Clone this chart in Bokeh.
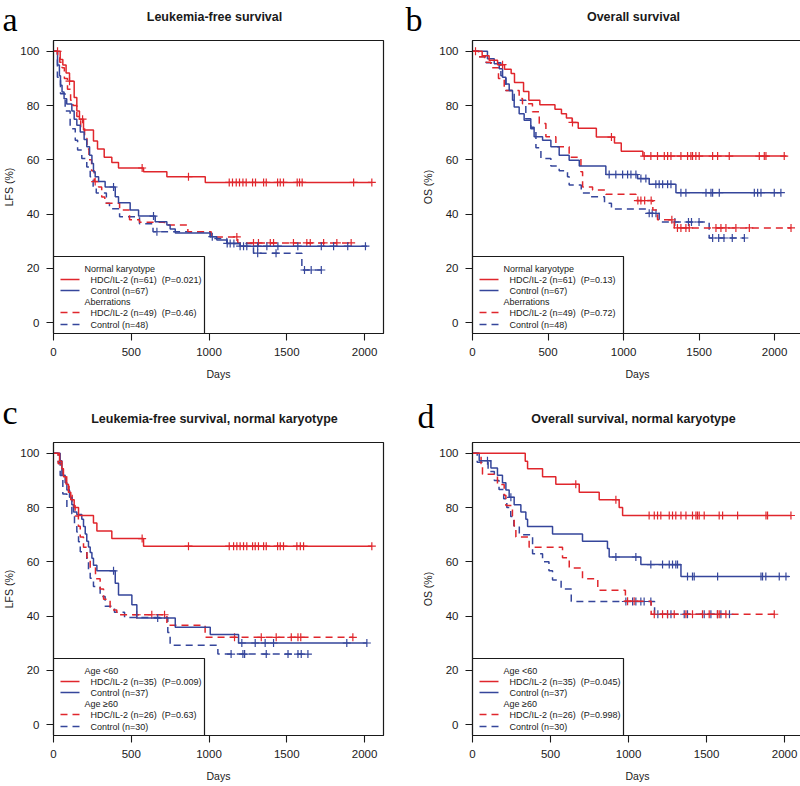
import numpy as np
from bokeh.plotting import figure
from bokeh.models import Range1d, FixedTicker
from bokeh.layouts import column, row
from bokeh.core.properties import value
from bokeh.embed import file_html
from bokeh.resources import INLINE

# ------------------------------------------------------------------ data
x_ticks = [0, 500, 1000, 1500, 2000]
y_ticks = [0, 20, 40, 60, 80, 100]

# Panel a : Leukemia-free survival
a_nk_hdc_t = [0, 43, 60, 81, 103, 133, 150, 167, 193, 257, 283, 326, 375, 418, 579, 729, 976, 2047]
a_nk_hdc_s = [100, 97, 95, 92, 89, 83, 78, 75, 71, 67, 64, 61, 59, 57, 55.6, 53.8, 51.7, 51.7]
a_nk_hdc_c = [26, 103, 187, 570, 868, 1130, 1151, 1175, 1196, 1218, 1239, 1280, 1299, 1351, 1368,
              1441, 1458, 1479, 1567, 1582, 1599, 1930, 2047]
a_nk_ctl_t = [0, 26, 38, 45, 55, 68, 85, 118, 133, 150, 172, 197, 214, 232, 247, 257, 268, 290, 332,
              397, 418, 493, 547, 654, 729, 750, 783, 1008, 1050, 1115, 1200, 2015]
a_nk_ctl_s = [100, 95, 91, 87.5, 85, 82.5, 80.6, 78, 75, 72.8, 70.3, 67.5, 64.8, 61.7, 58.7, 55.6, 53.8,
              52, 50, 46.4, 44.2, 41.5, 39.3, 37.2, 36, 34.5, 33, 31.7, 30.5, 29.2, 28.2, 28.2]
a_nk_ctl_c = [386, 643, 1021, 1117, 1136, 1160, 1200, 1222, 1243, 1313, 1372, 1443, 1571, 1722, 1801,
              1892, 2006]
a_ab_hdc_t = [0, 25, 40, 55, 70, 90, 110, 125, 150, 175, 200, 215, 228, 245, 262, 290, 310, 330, 425,
              489, 553, 714, 864, 1014, 1185, 1914]
a_ab_hdc_s = [100, 98, 96, 94, 90, 86, 82, 80, 76, 72, 68, 64, 60, 56, 52, 50, 46.3, 44, 41.5, 37.9,
              37, 36, 33.5, 31.6, 29.4, 29.4]
a_ab_hdc_c = [268, 1179, 1286, 1318, 1394, 1415, 1543, 1629, 1651, 1737, 1822, 1914]
a_ab_ctl_t = [0, 25, 45, 75, 107, 140, 155, 182, 214, 236, 255, 275, 340, 360, 425, 553, 640, 1008,
              1115, 1286, 1597, 1722]
a_ab_ctl_s = [100, 90.5, 84.4, 78, 71.5, 67.2, 63.6, 60.5, 57.4, 53.8, 50, 47.8, 44, 42, 39, 36.5,
              33.5, 31, 29.2, 25.6, 19.4, 19.4]
a_ab_ctl_c = [665, 1313, 1431, 1614, 1657, 1722]

# Panel b : Overall survival
b_nk_hdc_t = [0, 64, 110, 166, 212, 256, 278, 338, 373, 446, 546, 589, 622, 660, 700, 820, 940, 985,
              1128, 2079]
b_nk_hdc_s = [100, 98.4, 96.7, 95.1, 93.4, 91.8, 88.5, 85.2, 82, 80.3, 78.7, 77, 75.4, 73.8, 71.7,
              68.4, 66.2, 63.2, 61.4, 61.4]
b_nk_hdc_c = [20, 199, 662, 920, 1137, 1181, 1225, 1270, 1292, 1314, 1380, 1424, 1446, 1457, 1479,
              1501, 1590, 1623, 1700, 1899, 1932, 1943, 2064]
b_nk_ctl_t = [0, 99, 144, 177, 199, 221, 243, 265, 276, 309, 342, 386, 408, 464, 519, 574, 640, 707,
              883, 1093, 1170, 1347, 2042]
b_nk_ctl_s = [100, 97.3, 95.4, 93.6, 90.5, 88, 85.6, 82, 79.5, 77, 74.6, 72, 68.5, 67.2, 64.8, 61.7,
              59.9, 57.7, 54.6, 53.1, 51, 47.9, 47.9]
b_nk_ctl_c = [905, 949, 994, 1027, 1049, 1082, 1115, 1148, 1214, 1236, 1259, 1292, 1314, 1380, 1413,
              1546, 1579, 1590, 1634, 1866, 1888, 1910, 1998, 2042]
b_ab_hdc_t = [0, 40, 80, 121, 172, 210, 309, 331, 397, 442, 486, 552, 640, 718, 729, 795, 883, 1082,
              1194, 1225, 1336, 2109]
b_ab_hdc_s = [100, 98, 96, 94, 90, 85.6, 82.6, 80.7, 77.7, 73.4, 68.5, 64.8, 61, 55.6, 50, 48.9, 47.3,
              45, 41.5, 37.9, 34.9, 34.9]
b_ab_hdc_c = [1095, 1115, 1140, 1183, 1320, 1357, 1380, 1413, 1435, 1612, 1645, 1678, 1744, 1833, 2109]
b_ab_ctl_t = [0, 40, 90, 188, 221, 276, 353, 386, 420, 453, 519, 574, 629, 640, 720, 780, 874, 920,
              1148, 1236, 1567, 1800]
b_ab_ctl_s = [100, 98, 95.8, 91, 85.6, 82, 75.2, 71.5, 64.5, 60.5, 57.7, 56, 53.8, 50.7, 47.8, 46.4,
              44, 41.9, 40.3, 37.1, 31.2, 31.2]
b_ab_ctl_c = [1170, 1190, 1215, 1340, 1430, 1450, 1500, 1590, 1630, 1665, 1720, 1800]

# Panel c : Leukemia-free survival, normal karyotype
c_lo_hdc_t = [0, 39, 54, 64, 81, 96, 111, 133, 161, 257, 279, 375, 579, 2047]
c_lo_hdc_s = [100, 97.1, 94.3, 91.4, 88.6, 85.7, 82.9, 80, 77.1, 74.3, 71.4, 68.6, 65.8, 65.8]
c_lo_hdc_c = [570, 868, 1130, 1158, 1179, 1200, 1222, 1243, 1280, 1297, 1318, 1351, 1368, 1441,
              1458, 1479, 1565, 1587, 1608, 2047]
c_lo_ctl_t = [0, 43, 54, 75, 86, 103, 118, 129, 150, 182, 193, 204, 214, 225, 236, 247, 257, 279,
              397, 418, 504, 536, 783, 1008, 1190, 2015]
c_lo_ctl_s = [100, 97.3, 91.9, 89.2, 86.5, 83.8, 81.1, 78.4, 77.5, 75.7, 73, 70.3, 67.6, 65.5, 63.5,
              61.3, 58.8, 56.7, 52.1, 47.8, 44.2, 39.3, 35.9, 33.2, 30.1, 30.1]
c_lo_ctl_c = [386, 670, 1211, 1297, 1361, 1415, 1886, 2015]
c_hi_hdc_t = [0, 30, 60, 85, 100, 120, 139, 160, 172, 193, 215, 236, 270, 300, 322, 364, 407, 729,
              975, 1925]
c_hi_hdc_s = [100, 96.2, 92.3, 88.5, 84.6, 80.8, 76.9, 73.1, 69.2, 65.4, 61.5, 57.7, 53.8, 50, 46.2,
              42.3, 40.5, 36.6, 32.2, 32.2]
c_hi_hdc_c = [535, 632, 714, 1164, 1336, 1432, 1529, 1572, 1590, 1925]
c_hi_ctl_t = [0, 30, 43, 60, 86, 118, 135, 150, 161, 172, 214, 225, 236, 257, 300, 332, 392, 457,
              735, 750, 1057, 1640]
c_hi_ctl_s = [100, 96.7, 91.8, 85, 80.2, 77.7, 74, 71, 67.4, 63.7, 60, 57, 54, 50.9, 47.2, 43.6,
              41.4, 39.5, 34, 29.3, 26, 26]
c_hi_ctl_c = [1142, 1218, 1229, 1368, 1508, 1572, 1593, 1636]

# Panel d : Overall survival, normal karyotype
d_lo_hdc_t = [0, 338, 353, 449, 534, 684, 812, 940, 962, 2041]
d_lo_hdc_s = [100, 97.1, 94.3, 91.4, 88.6, 85.7, 82.9, 80, 77.1, 77.1]
d_lo_hdc_c = [662, 919, 1132, 1165, 1186, 1207, 1261, 1282, 1303, 1336, 1368, 1410, 1432, 1442,
              1453, 1485, 1581, 1603, 1699, 1881, 1891, 2041]
d_lo_ctl_t = [0, 43, 118, 160, 192, 214, 235, 267, 310, 342, 353, 513, 705, 865, 876, 1079, 1336, 2030]
d_lo_ctl_s = [100, 97.3, 94.6, 91.9, 89.2, 86.5, 83.8, 81.1, 78.4, 75.7, 73, 70.3, 67.6, 64.9, 61.8,
              59, 54.6, 54.6]
d_lo_ctl_c = [96, 246, 919, 1047, 1143, 1218, 1261, 1282, 1303, 1314, 1378, 1410, 1421, 1571, 1849,
              1859, 1880, 1966, 2009]
d_hi_hdc_t = [0, 55, 64, 160, 203, 214, 256, 267, 278, 363, 577, 620, 705, 803, 980, 1145, 1934]
d_hi_hdc_s = [100, 96.2, 92.3, 88.5, 84.6, 80.8, 76.9, 73.1, 69.2, 65.4, 61.5, 57.7, 53.8, 49.5,
              45.5, 40.7, 40.7]
d_hi_hdc_c = [994, 1036, 1165, 1218, 1250, 1293, 1368, 1410, 1474, 1517, 1570, 1581, 1624, 1934]
d_hi_ctl_t = [0, 30, 100, 140, 170, 200, 220, 245, 265, 300, 385, 449, 490, 513, 568, 633, 1167, 1647]
d_hi_ctl_s = [100, 96.7, 93.3, 90, 86.7, 83.3, 80, 76.7, 73.3, 70, 63, 60, 56.7, 53.3, 50, 45.4,
              40.7, 40.7]
d_hi_ctl_c = [983, 1026, 1047, 1079, 1100, 1143, 1188, 1250, 1272, 1357, 1378, 1485, 1528, 1570,
              1592, 1647]

panel_letters = ["a", "b", "c", "d"]
panel_titles = ["Leukemia-free survival", "Overall survival",
                "Leukemia-free survival, normal karyotype", "Overall survival, normal karyotype"]
panel_ylabels = ["LFS (%)", "OS (%)", "LFS (%)", "OS (%)"]
x_label = "Days"
legend_headers = [["Normal karyotype", "Aberrations"], ["Normal karyotype", "Aberrations"],
                  ["Age <60", "Age \u226560"], ["Age <60", "Age \u226560"]]
legend_items = [
    ["HDC/IL-2 (n=61)\u00a0 (P=0.021)", "Control (n=67)", "HDC/IL-2 (n=49)\u00a0 (P=0.46)", "Control (n=48)"],
    ["HDC/IL-2 (n=61)\u00a0 (P=0.13)", "Control (n=67)", "HDC/IL-2 (n=49)\u00a0 (P=0.72)", "Control (n=48)"],
    ["HDC/IL-2 (n=35)\u00a0 (P=0.009)", "Control (n=37)", "HDC/IL-2 (n=26)\u00a0 (P=0.63)", "Control (n=30)"],
    ["HDC/IL-2 (n=35)\u00a0 (P=0.045)", "Control (n=37)", "HDC/IL-2 (n=26)\u00a0 (P=0.998)", "Control (n=30)"],
]
panel_series = [
    [(a_nk_hdc_t, a_nk_hdc_s, a_nk_hdc_c), (a_nk_ctl_t, a_nk_ctl_s, a_nk_ctl_c),
     (a_ab_hdc_t, a_ab_hdc_s, a_ab_hdc_c), (a_ab_ctl_t, a_ab_ctl_s, a_ab_ctl_c)],
    [(b_nk_hdc_t, b_nk_hdc_s, b_nk_hdc_c), (b_nk_ctl_t, b_nk_ctl_s, b_nk_ctl_c),
     (b_ab_hdc_t, b_ab_hdc_s, b_ab_hdc_c), (b_ab_ctl_t, b_ab_ctl_s, b_ab_ctl_c)],
    [(c_lo_hdc_t, c_lo_hdc_s, c_lo_hdc_c), (c_lo_ctl_t, c_lo_ctl_s, c_lo_ctl_c),
     (c_hi_hdc_t, c_hi_hdc_s, c_hi_hdc_c), (c_hi_ctl_t, c_hi_ctl_s, c_hi_ctl_c)],
    [(d_lo_hdc_t, d_lo_hdc_s, d_lo_hdc_c), (d_lo_ctl_t, d_lo_ctl_s, d_lo_ctl_c),
     (d_hi_hdc_t, d_hi_hdc_s, d_hi_hdc_c), (d_hi_ctl_t, d_hi_ctl_s, d_hi_ctl_c)],
]
panel_xmax = [2122, 2185, 2122, 2115]

# ------------------------------------------------------------------ style / layout
RED = "#e0262c"
BLUE = "#35469b"
INK = "#1a1a1a"
SANS = "Liberation Sans"
SERIF = "Liberation Serif"
series_colors = [RED, BLUE, RED, BLUE]
series_dash = ["solid", "solid", "7 5", "7 5"]
FW, FH = 330, 293
Y0, Y1 = -4, 104
TOTAL_W = 799
borders = [  # left, right, top, bottom
    (49, 15, 1, 55), (74, 1, 1, 55),
    (49, 15, 1, 50), (74, 1, 1, 50),
]
STRIP_H = [39, 53]          # heading strips above each row of panels
title_above = 24            # px from frame top to title centre
letter_size = "34px"
letter_above = [21, 21, 30.5, 26.5]   # px from frame top to letter centre line
letter_dx = [-47, -63, -47, -51]


def step_value(t, s, c):
    t = np.asarray(t, float)
    s = np.asarray(s, float)
    idx = np.searchsorted(t, np.asarray(c, float), side="right") - 1
    return s[np.clip(idx, 0, len(s) - 1)]


def style_axis(ax):
    ax.major_tick_out = 7
    ax.major_tick_in = 0
    ax.minor_tick_line_color = None
    ax.axis_line_color = INK
    ax.axis_line_width = 1.1
    ax.major_tick_line_color = INK
    ax.major_tick_line_width = 1.1
    ax.major_label_text_font = SANS
    ax.major_label_text_font_size = "11.5px"
    ax.major_label_text_color = INK
    ax.axis_label_text_font = SANS
    ax.axis_label_text_font_size = "10.5px"
    ax.axis_label_text_font_style = "normal"
    ax.axis_label_text_color = INK


def make_panel(k):
    bl, br, bt, bb = borders[k]
    xmax = panel_xmax[k]
    p = figure(frame_width=FW, frame_height=FH,
               min_border_left=bl, min_border_right=br, min_border_top=bt, min_border_bottom=bb,
               x_range=Range1d(0, xmax), y_range=Range1d(Y0, Y1),
               output_backend="svg", toolbar_location=None, tools="")
    p.grid.visible = False
    p.outline_line_color = INK
    p.outline_line_width = 1.2
    p.background_fill_color = "white"
    p.border_fill_color = "white"

    p.xaxis.ticker = FixedTicker(ticks=x_ticks)
    p.yaxis.ticker = FixedTicker(ticks=y_ticks)
    style_axis(p.xaxis[0])
    style_axis(p.yaxis[0])
    p.xaxis.major_label_standoff = 7
    p.yaxis.major_label_standoff = 7
    p.xaxis.axis_label = x_label
    p.xaxis.axis_label_standoff = 9
    p.yaxis.axis_label = panel_ylabels[k]
    p.yaxis.axis_label_standoff = 2

    for j in (3, 2, 1, 0):
        t, s, c = panel_series[k][j]
        p.step(t, s, mode="after", line_color=series_colors[j], line_width=1.5,
               line_dash=series_dash[j])
        p.scatter(c, step_value(t, s, c), marker="cross", size=8,
                  line_color=series_colors[j], line_width=1.2)

    # legend box in the lower-left corner (pixel layout converted to data units)
    sx = FW / float(xmax)
    sy = FH / float(Y1 - Y0)
    bw, bh = 151, 77
    p.quad(left=[0], right=[bw / sx], bottom=[Y0], top=[Y0 + bh / sy],
           fill_color="white", line_color=INK, line_width=1.2)
    rows_px = [65, 54, 43, 32, 21, 9]
    hdr_rows = [rows_px[0], rows_px[3]]
    item_rows = [rows_px[1], rows_px[2], rows_px[4], rows_px[5]]
    for j, r in enumerate(item_rows):
        yy = Y0 + r / sy
        p.line([7 / sx, 26 / sx], [yy, yy], line_color=series_colors[j], line_width=1.5,
               line_dash=series_dash[j])
    p.text(x=[31 / sx] * 2, y=[Y0 + r / sy for r in hdr_rows], text=legend_headers[k],
           text_font=value(SANS), text_font_size=value("9px"), text_color=INK,
           text_baseline="middle", text_align="left")
    p.text(x=[37 / sx] * 4, y=[Y0 + r / sy for r in item_rows], text=legend_items[k],
           text_font=value(SANS), text_font_size=value("9px"), text_color=INK,
           text_baseline="middle", text_align="left")
    return p


def make_strip(row_idx):
    h = STRIP_H[row_idx]
    s = figure(width=TOTAL_W, height=h, x_range=Range1d(0, TOTAL_W), y_range=Range1d(h, 0),
               min_border=0, x_axis_location=None, y_axis_location=None,
               output_backend="svg", toolbar_location=None, tools="")
    s.grid.visible = False
    s.outline_line_color = None
    s.background_fill_color = "white"
    s.border_fill_color = "white"
    tx, ty, lx, ly, letters = [], [], [], [], []
    k0 = row_idx * 2
    for col in range(2):
        k = k0 + col
        frame_left = borders[k0][0] if col == 0 else borders[k0][0] + FW + borders[k0][1] + borders[k][0]
        frame_top = h + borders[k][2]
        tx.append(frame_left + FW / 2.0)
        ty.append(frame_top - title_above)
        lx.append(frame_left + letter_dx[k])
        ly.append(frame_top - letter_above[k])
        letters.append(panel_letters[k])
    s.text(x=tx, y=ty, text=[panel_titles[k0], panel_titles[k0 + 1]],
           text_font=value(SANS), text_font_size=value("12.5px"), text_font_style="bold",
           text_color=INK, text_align="center", text_baseline="middle")
    s.text(x=lx, y=ly, text=letters, text_font=value(SERIF), text_font_size=value(letter_size),
           text_color="black", text_align="left", text_baseline="middle")
    return s


panels = [make_panel(k) for k in range(4)]
layout = column(make_strip(0), row(panels[0], panels[1], spacing=0),
                make_strip(1), row(panels[2], panels[3], spacing=0), spacing=0)

open("out.html", "w").write(file_html(layout, INLINE))
